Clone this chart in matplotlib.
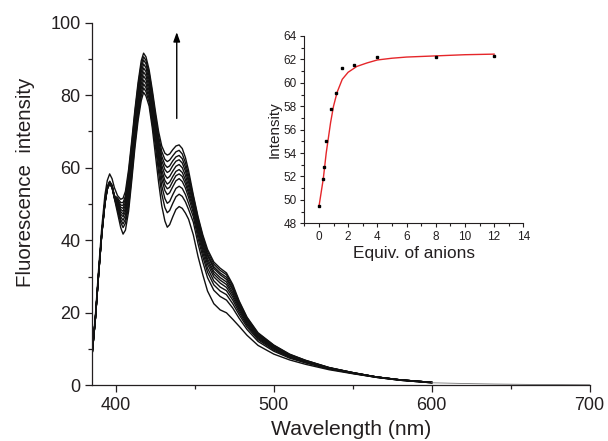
import matplotlib
matplotlib.use("Agg")
import matplotlib.pyplot as plt
from matplotlib.ticker import MultipleLocator

plt.rcParams['font.family'] = ['Liberation Sans', 'DejaVu Sans']

# ---------------- data ----------------
wavelength = [385, 387, 389, 391, 393, 394.5, 396, 397.5, 399, 401, 403, 404.5, 406, 408, 410,
              412, 414, 416, 417.5, 419, 421, 423, 425, 427, 429, 431, 432.5, 434, 436, 438,
              440, 442, 444, 446, 449, 452, 455, 458, 462, 466, 470, 474, 478, 483, 490,
              500, 510, 520, 535, 550, 565, 580, 600]

spec_0 = [9.0, 18.5, 30.5, 41.5, 50.0, 54.0, 55.5, 54.5, 51.5, 47.5, 43.5, 41.7, 42.8, 48.0, 56.5,
          65.5, 73.0, 78.5, 80.8, 79.8, 77.0, 71.0, 63.5, 56.0, 49.5, 45.3, 43.6, 44.3, 46.5, 48.5,
          49.3, 48.8, 47.5, 45.8, 41.5, 35.5, 30.5, 26.0, 22.5, 20.8, 20.0, 18.2, 16.3, 13.8, 11.0,
          8.6, 7.0, 5.8, 4.3, 3.2, 2.2, 1.4, 0.7]
spec_1 = [9.0, 18.6, 30.6, 41.6, 50.1, 54.1, 55.6, 54.6, 51.7, 48.4, 44.9, 43.5, 44.7, 49.3, 57.7,
          66.7, 74.2, 79.7, 82.0, 81.0, 78.1, 72.2, 65.9, 58.8, 52.8, 49.0, 47.6, 48.2, 50.2, 52.0,
          52.7, 52.1, 50.6, 48.5, 45.0, 39.0, 34.0, 29.7, 26.2, 24.5, 23.5, 21.3, 18.5, 15.4, 12.1,
          9.4, 7.5, 6.2, 4.5, 3.3, 2.2, 1.4, 0.7]
spec_2 = [9.0, 18.6, 30.6, 41.7, 50.2, 54.2, 55.7, 54.7, 51.7, 48.8, 45.7, 44.5, 45.8, 50.4, 58.8,
          67.7, 75.2, 80.8, 83.1, 82.1, 79.1, 73.2, 67.5, 60.6, 55.0, 51.5, 50.2, 50.7, 52.6, 54.3,
          54.9, 54.3, 52.6, 50.2, 46.5, 40.5, 35.5, 31.2, 27.7, 26.0, 25.0, 22.5, 19.5, 16.1, 12.6,
          9.7, 7.7, 6.3, 4.6, 3.3, 2.2, 1.4, 0.7]
spec_3 = [9.1, 18.6, 30.7, 41.7, 50.3, 54.3, 55.8, 54.8, 51.8, 49.3, 46.5, 45.5, 46.9, 51.6, 59.9,
          68.8, 76.3, 81.9, 84.2, 83.2, 80.1, 74.3, 68.9, 62.3, 56.9, 53.7, 52.6, 53.1, 54.8, 56.4,
          57.0, 56.2, 54.4, 51.8, 47.6, 41.6, 36.6, 32.3, 28.8, 27.1, 26.1, 23.5, 20.2, 16.6, 12.9,
          10.0, 7.9, 6.4, 4.6, 3.4, 2.3, 1.5, 0.8]
spec_4 = [9.1, 18.6, 30.7, 41.8, 50.3, 54.3, 55.9, 54.8, 51.9, 49.8, 47.2, 46.5, 47.9, 52.8, 61.1,
          69.9, 77.4, 83.1, 85.3, 84.3, 81.2, 75.4, 69.9, 63.4, 58.3, 55.2, 54.2, 54.6, 56.3, 57.8,
          58.3, 57.6, 55.6, 52.9, 48.5, 42.5, 37.5, 33.4, 29.9, 28.2, 27.0, 24.3, 20.8, 17.0, 13.2,
          10.2, 8.0, 6.5, 4.7, 3.4, 2.3, 1.5, 0.8]
spec_5 = [9.1, 18.7, 30.7, 41.8, 50.4, 54.4, 55.9, 54.9, 52.0, 50.2, 47.9, 47.2, 48.8, 54.0, 62.2,
          71.0, 78.5, 84.2, 86.4, 85.4, 82.2, 76.5, 70.7, 64.4, 59.4, 56.5, 55.5, 56.0, 57.6, 59.0,
          59.5, 58.7, 56.7, 53.8, 49.3, 43.3, 38.3, 34.2, 30.7, 29.0, 27.8, 25.0, 21.3, 17.4, 13.5,
          10.4, 8.1, 6.6, 4.7, 3.4, 2.3, 1.5, 0.8]
spec_6 = [9.1, 18.7, 30.8, 41.9, 50.5, 54.5, 56.0, 55.0, 52.0, 50.6, 48.5, 48.0, 49.7, 55.1, 63.3,
          72.0, 79.5, 85.3, 87.5, 86.5, 83.2, 77.5, 71.7, 65.5, 60.7, 58.0, 57.1, 57.6, 59.1, 60.4,
          60.9, 60.0, 57.9, 54.9, 50.0, 44.0, 39.0, 34.9, 31.4, 29.7, 28.5, 25.6, 21.7, 17.7, 13.7,
          10.5, 8.2, 6.7, 4.8, 3.4, 2.3, 1.5, 0.8]
spec_7 = [9.1, 18.7, 30.8, 41.9, 50.5, 54.5, 56.1, 55.0, 52.1, 51.0, 49.1, 48.8, 50.5, 56.3, 64.4,
          73.1, 80.6, 86.4, 88.6, 87.6, 84.2, 78.6, 72.6, 66.6, 62.0, 59.5, 58.7, 59.1, 60.6, 61.8,
          62.2, 61.3, 59.1, 56.0, 50.7, 44.7, 39.7, 35.7, 32.2, 30.5, 29.2, 26.3, 22.2, 18.0, 13.9,
          10.7, 8.3, 6.7, 4.8, 3.5, 2.3, 1.5, 0.8]
spec_8 = [9.1, 18.7, 30.8, 42.0, 50.6, 54.6, 56.1, 55.1, 52.2, 51.3, 49.7, 49.6, 51.4, 57.4, 65.5,
          74.1, 81.6, 87.5, 89.7, 88.7, 85.2, 79.6, 73.5, 67.6, 63.2, 60.8, 60.1, 60.5, 61.9, 63.0,
          63.4, 62.5, 60.2, 56.9, 51.3, 45.3, 40.3, 36.2, 32.7, 31.0, 29.8, 26.7, 22.5, 18.3, 14.1,
          10.8, 8.4, 6.8, 4.8, 3.5, 2.3, 1.5, 0.8]
spec_9 = [9.1, 18.8, 30.9, 42.0, 50.7, 54.7, 56.3, 55.2, 52.3, 51.7, 50.4, 50.4, 52.2, 58.5, 66.5,
          75.1, 82.6, 88.5, 90.6, 89.6, 86.1, 80.6, 74.4, 68.7, 64.5, 62.3, 61.7, 62.1, 63.3, 64.4,
          64.8, 63.8, 61.4, 58.0, 52.0, 46.0, 41.0, 36.9, 33.4, 31.7, 30.5, 27.3, 23.0, 18.6, 14.3,
          11.0, 8.5, 6.9, 4.9, 3.5, 2.3, 1.5, 0.8]
spec_10 = [9.5, 19.5, 32.0, 43.5, 52.5, 56.5, 58.3, 57.0, 54.5, 52.3, 51.3, 51.6, 53.5, 59.5, 67.5,
           76.0, 83.5, 89.5, 91.6, 90.6, 87.0, 81.5, 75.5, 70.0, 66.0, 64.0, 63.5, 63.8, 65.0, 66.0,
           66.3, 65.3, 62.8, 59.2, 52.5, 46.5, 41.5, 37.5, 34.0, 32.3, 31.0, 27.8, 23.3, 18.8, 14.5,
           11.1, 8.6, 6.9, 4.9, 3.5, 2.3, 1.5, 0.8]
spectra = [spec_0, spec_1, spec_2, spec_3, spec_4, spec_5, spec_6, spec_7, spec_8, spec_9, spec_10]

tail_wavelength = [600, 620, 640, 660, 680, 700]
tail_values = [0.7, 0.5, 0.35, 0.25, 0.2, 0.15]

equiv = [0, 0.25, 0.35, 0.5, 0.8, 1.2, 1.6, 2.4, 4, 8, 12]
intensity = [49.45, 51.8, 52.8, 55.0, 57.8, 59.1, 61.3, 61.5, 62.2, 62.2, 62.3]
fit_equiv = [0, 0.15, 0.3, 0.5, 0.8, 1.0, 1.25, 1.6, 2.0, 2.6, 3.3, 4, 5, 6, 8, 10, 12]
fit_intensity = [49.4, 50.6, 51.8, 54.0, 56.6, 58.0, 59.2, 60.3, 60.9, 61.4, 61.7, 61.95,
                 62.1, 62.2, 62.3, 62.4, 62.45]

main_xticks = [400, 500, 600, 700]
main_yticks = [0, 20, 40, 60, 80, 100]
inset_xticks = [0, 2, 4, 6, 8, 10, 12, 14]
inset_yticks = [48, 50, 52, 54, 56, 58, 60, 62, 64]

# ---------------- figure ----------------
txt = '#231f20'
fig = plt.figure(figsize=(6.08, 4.41), dpi=100)
ax = fig.add_axes([0.1518, 0.1263, 0.8178, 0.8222])

for s in spectra:
    ax.plot(wavelength, s, color='#111111', lw=1.0)
ax.plot(tail_wavelength, tail_values, color='#777777', lw=0.6)

ax.set_xlim(385, 700)
ax.set_ylim(0, 100)
ax.set_xticks(main_xticks)
ax.set_yticks(main_yticks)
ax.xaxis.set_minor_locator(MultipleLocator(50))
ax.yaxis.set_minor_locator(MultipleLocator(10))
for sp in ['top', 'right']:
    ax.spines[sp].set_visible(False)
for sp in ['left', 'bottom']:
    ax.spines[sp].set_linewidth(0.9)
    ax.spines[sp].set_color(txt)
ax.tick_params(which='major', direction='out', length=5, width=0.9, labelsize=13,
               colors=txt, pad=3.5)
ax.tick_params(which='minor', direction='out', length=3, width=0.9, colors=txt)
ax.set_xlabel('Wavelength (nm)', fontsize=15.2, color=txt)
ax.xaxis.set_label_coords(0.52, -0.095)
ax.set_ylabel('Fluorescence  intensity', fontsize=14.8, color=txt)
ax.yaxis.set_label_coords(-0.115, 0.56)

ax.annotate('', xy=(438.5, 97.4), xytext=(438.5, 73.6),
            arrowprops=dict(arrowstyle='-|>,head_length=0.7,head_width=0.25',
                            mutation_scale=8, color='black', lw=1.0,
                            shrinkA=0, shrinkB=0))

# ---------------- inset ----------------
ins = fig.add_axes([0.5005, 0.4937, 0.3602, 0.4247])
ins.plot(fit_equiv, fit_intensity, color='#e5262a', lw=1.0)
ins.plot(equiv, intensity, 's', color='black', ms=2.0)
ins.set_xlim(-1, 14)
ins.set_ylim(48, 64)
ins.set_xticks(inset_xticks)
ins.set_yticks(inset_yticks)
ins.xaxis.set_minor_locator(MultipleLocator(1))
ins.yaxis.set_minor_locator(MultipleLocator(1))
for sp in ['top', 'right']:
    ins.spines[sp].set_visible(False)
for sp in ['left', 'bottom']:
    ins.spines[sp].set_linewidth(0.8)
    ins.spines[sp].set_color(txt)
ins.tick_params(which='major', direction='out', length=3, width=0.8, labelsize=8.5,
                colors=txt, pad=2.5)
ins.tick_params(which='minor', direction='out', length=2, width=0.8, colors=txt)
ins.set_xlabel('Equiv. of anions', fontsize=12.4, color=txt, labelpad=2)
ins.set_ylabel('Intensity', fontsize=11, color=txt, labelpad=1)

fig.savefig('out.png', dpi=100)
